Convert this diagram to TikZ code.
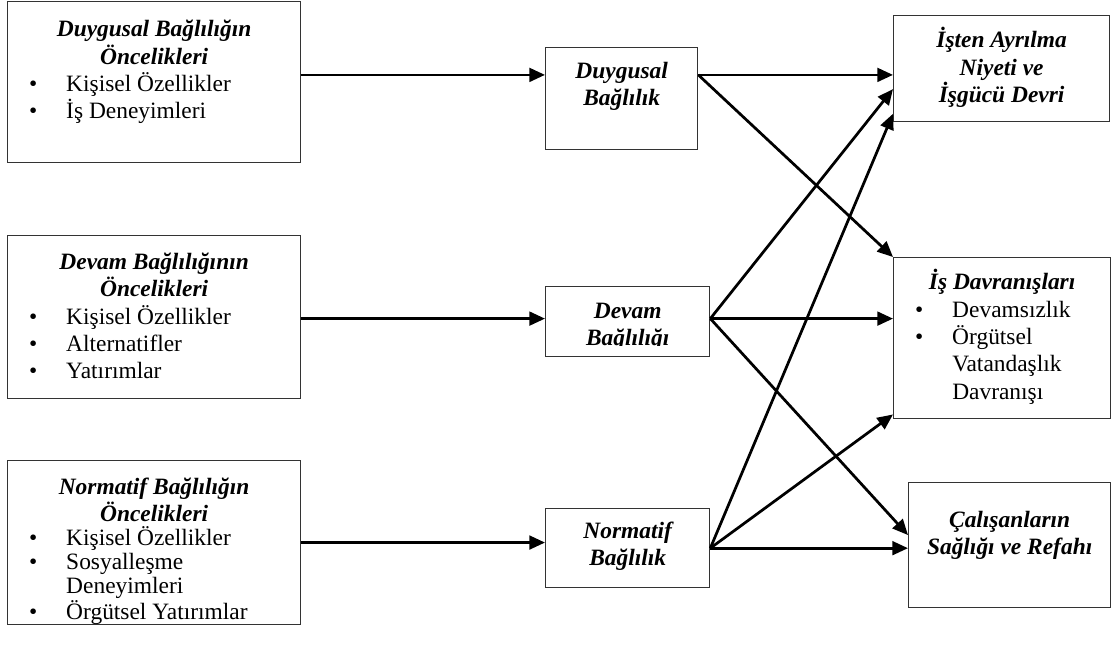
\documentclass[tikz,border=0pt]{standalone}
\usepackage{fontspec}
\setmainfont{Liberation Serif}
\usetikzlibrary{calc}
\usetikzlibrary{arrows.meta}

\newcommand{\boxtext}[4]{\parbox[c][#2][t]{#1}{\rule{0pt}{#3}#4}}
\newcommand{\titl}[1]{{\centering\bfseries\itshape #1\par}}
\newcommand{\itm}[1]{\hspace*{11pt}\makebox[19pt][l]{\textbullet}#1\par}
\newcommand{\cnt}[1]{\hspace*{30pt}#1\par}

\begin{document}
\begin{tikzpicture}[x=0.018cm, y=-0.018cm,
    font=\fontsize{12pt}{14pt}\selectfont,
    box/.style={draw=black!80, line width=0.7pt, inner sep=0pt, anchor=north west},
    arr/.style={line width=1.4pt, -{Triangle[length=8pt,width=7pt]}}]
    \useasboundingbox (0,0) rectangle (1120,647);

    \node[box] (anteD) at (7,1) {\boxtext{5.274cm}{2.898cm}{18pt}{\titl{Duygusal Bağlılığın\\Öncelikleri}\itm{Kişisel Özellikler}\itm{İş Deneyimleri}}};
    \node[box] (anteC) at (7,235) {\boxtext{5.274cm}{2.934cm}{17.4pt}{\titl{Devam Bağlılığının\\Öncelikleri}\itm{Kişisel Özellikler}\itm{Alternatifler}\itm{Yatırımlar}}};
    \node[box] (anteN) at (7,460) {\boxtext{5.274cm}{2.952cm}{17.4pt}{\fontsize{12pt}{12.3pt}\selectfont\titl{Normatif Bağlılığın\\Öncelikleri}\itm{Kişisel Özellikler}\itm{Sosyalleşme}\cnt{Deneyimleri}\itm{Örgütsel Yatırımlar}}};

    \node[box] (aff) at (545,47) {\boxtext{2.736cm}{1.836cm}{15.8pt}{\titl{Duygusal\\Bağlılık}}};
    \node[box, minimum width=2.952cm, minimum height=1.26cm] (cont) at (545,286) {};
    \begin{scope}
      \clip (545,286) rectangle (709,345);
      \node[anchor=north, inner sep=0pt] (contText) at (cont.north) {\boxtext{2.952cm}{1.26cm}{16.4pt}{\titl{Devam\\Bağlılığı}}};
    \end{scope}
    \node[box] (norm) at (545,508) {\boxtext{2.952cm}{1.422cm}{15.3pt}{\titl{Normatif\\Bağlılık}}};

    \node[box] (turn) at (893,15) {\boxtext{3.888cm}{1.908cm}{16.4pt}{\titl{İşten Ayrılma\\Niyeti ve\\İşgücü Devri}}};
    \node[box] (behav) at (893,257) {\boxtext{3.906cm}{2.898cm}{16.4pt}{\titl{İş Davranışları}\itm{Devamsızlık}\itm{Örgütsel}\cnt{Vatandaşlık}\cnt{Davranışı}}};
    \node[box] (health) at (908,482) {\boxtext{3.636cm}{2.25cm}{23pt}{\titl{Çalışanların\\Sağlığı ve Refahı}}};

    \coordinate (affL) at ($(aff.north west)!0.27!(aff.south west)$);
    \coordinate (affR) at ($(aff.north east)!0.27!(aff.south east)$);
    \coordinate (contL) at ($(cont.north west)!0.457!(cont.south west)$);
    \coordinate (contR) at ($(cont.north east)!0.457!(cont.south east)$);
    \coordinate (normL) at ($(norm.north west)!0.43!(norm.south west)$);

    \draw[arr] (anteD.east |- affL) -- (affL);
    \draw[arr] (anteC.east |- contL) -- (contL);
    \draw[arr] (anteN.east |- normL) -- (normL);

    \draw[arr] (affR) -- (turn.west |- affR);
    \draw[arr] (affR) -- (behav.north west);
    \draw[arr] (contR) -- ($(turn.north west)!0.69!(turn.south west)$);
    \draw[arr] (contR) -- (behav.west |- contR);
    \draw[arr] (contR) -- ($(health.north west)!0.42!(health.south west)$);
    \draw[arr] (norm.east) -- ($(turn.north west)!0.92!(turn.south west)$);
    \draw[arr] (norm.east) -- ($(behav.north west)!0.97!(behav.south west)$);
    \draw[arr] (norm.east) -- (health.west |- norm.east);
\end{tikzpicture}
\end{document}
